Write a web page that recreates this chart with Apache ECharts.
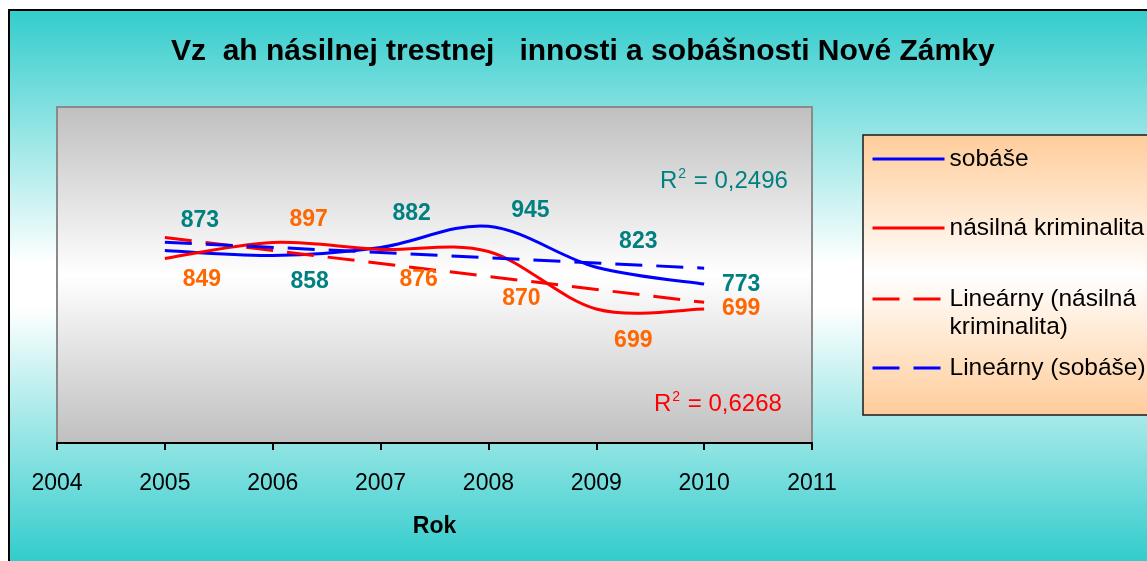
<!DOCTYPE html>
<html>
<head>
<meta charset="utf-8">
<script src="https://cdn.jsdelivr.net/npm/echarts@6/dist/echarts.min.js"></script>
<style>
html, body { margin: 0; padding: 0; background: #ffffff; }
#chart { width: 1147px; height: 561px; }
</style>
</head>
<body>
<div id="chart"></div>
<script>
// ---- data ----
const years = [2005, 2006, 2007, 2008, 2009, 2010];
const sobase = [873, 858, 882, 945, 823, 773];
const kriminalita = [849, 897, 876, 870, 699, 699];
const seriesNames = ['sobáše', 'násilná kriminalita', 'Lineárny (násilná kriminalita)', 'Lineárny (sobáše)'];
const r2Sobase = '0,2496';
const r2Kriminalita = '0,6268';
const titleText = 'Vz  ah násilnej trestnej   innosti a sobášnosti Nové Zámky';
const axisName = 'Rok';
const xMin = 2004, xMax = 2011, xStep = 1;
const yMin = 300, yMax = 1300;

// ---- layout (label offsets relative to each point) ----
const sobaseLabelOffsets = [[35, -30], [37, 26], [31, -34], [42, -16], [42, -26], [37, 1]];
const krimLabelOffsets = [[37, 21], [36, -23], [38, 30], [33, 47], [37, 32], [37, 0]];

const FONT = '"Liberation Sans", Arial, sans-serif';
const BLUE = '#0000ff', RED = '#ff0000', TEAL = '#008080', ORANGE = '#ff6600';
const dash = [27, 14];

// linear trendline (least squares), as the spreadsheet trendline does
function linearTrend(xs, ys) {
  const n = xs.length;
  const mx = xs.reduce((a, b) => a + b, 0) / n;
  const my = ys.reduce((a, b) => a + b, 0) / n;
  let sxy = 0, sxx = 0;
  for (let i = 0; i < n; i++) { sxy += (xs[i] - mx) * (ys[i] - my); sxx += (xs[i] - mx) * (xs[i] - mx); }
  const b = sxy / sxx, a = my - b * mx;
  return [[xs[0], a + b * xs[0]], [xs[n - 1], a + b * xs[n - 1]]];
}

function pointsWithLabels(ys, offsets) {
  return years.map((y, i) => ({ value: [y, ys[i]], label: { offset: offsets[i] } }));
}

const labelBase = (color) => ({
  show: true,
  position: 'inside',
  formatter: (p) => String(p.value[1]),
  color: color,
  fontFamily: FONT,
  fontWeight: 'bold',
  fontSize: 23
});

// spreadsheet-style smoothed line (Catmull-Rom bezier) through the points, mapped by the axes
function smoothRenderer(values, color) {
  return function (params, api) {
    if (params.dataIndex !== 0) return null;
    const pts = years.map((yr, i) => api.coord([yr, values[i]]));
    const n = pts.length;
    let d = 'M' + pts[0][0] + ' ' + pts[0][1];
    for (let i = 0; i < n - 1; i++) {
      const p0 = pts[Math.max(i - 1, 0)], p1 = pts[i], p2 = pts[i + 1], p3 = pts[Math.min(i + 2, n - 1)];
      const c1x = p1[0] + (p2[0] - p0[0]) / 6, c1y = p1[1] + (p2[1] - p0[1]) / 6;
      const c2x = p2[0] - (p3[0] - p1[0]) / 6, c2y = p2[1] - (p3[1] - p1[1]) / 6;
      d += ' C' + c1x + ' ' + c1y + ' ' + c2x + ' ' + c2y + ' ' + p2[0] + ' ' + p2[1];
    }
    return {
      type: 'path',
      shape: { pathData: d },
      style: { stroke: color, lineWidth: 3, fill: 'none', lineJoin: 'round', lineCap: 'butt' },
      silent: true
    };
  };
}

const chart = echarts.init(document.getElementById('chart'), null, { renderer: 'canvas' });

const legendCommon = {
  orient: 'vertical',
  left: 871,
  padding: 0,
  itemWidth: 72,
  itemHeight: 14,
  selectedMode: false,
  lineStyle: { width: 3, opacity: 1 },
  itemStyle: { color: 'rgba(0,0,0,0)', borderWidth: 0, opacity: 0 },
  textStyle: { fontFamily: FONT, fontSize: 24.5, color: '#000', lineHeight: 28 }
};

const invisibleSymbol = {
  symbol: 'circle', symbolSize: 1, showSymbol: true,
  itemStyle: { color: 'rgba(0,0,0,0)', borderWidth: 0 }
};

chart.setOption({
  animation: false,
  title: {
    text: titleText,
    left: 171,
    top: 34,
    padding: 0,
    textStyle: { fontFamily: FONT, fontSize: 30, fontWeight: 'bold', color: '#000', lineHeight: 36 }
  },
  graphic: {
    elements: [
      {
        type: 'rect', z: -100, silent: true,
        shape: { x: 9, y: 10, width: 1300, height: 800 },
        style: {
          fill: new echarts.graphic.LinearGradient(0, 10, 0, 561, [
            { offset: 0, color: '#33cccc' },
            { offset: 0.46, color: '#ffffff' },
            { offset: 0.54, color: '#ffffff' },
            { offset: 1, color: '#33cccc' }
          ], true),
          stroke: '#000', lineWidth: 2
        }
      },
      {
        type: 'rect', z: -50, silent: true,
        shape: { x: 863, y: 135, width: 400, height: 280 },
        style: {
          fill: new echarts.graphic.LinearGradient(0, 0, 0, 1, [
            { offset: 0, color: '#ffcc99' },
            { offset: 0.5, color: '#ffffff' },
            { offset: 1, color: '#ffcc99' }
          ]),
          stroke: '#1a1a1a', lineWidth: 1.5
        }
      },
      {
        type: 'text', z: 10, silent: true,
        x: 660, y: 181,
        style: {
          text: '{r|R}{s|2}{r| = ' + r2Sobase + '}',
          verticalAlign: 'middle',
          rich: {
            r: { fontFamily: FONT, fontSize: 24, fill: TEAL },
            s: { fontFamily: FONT, fontSize: 14, fill: TEAL, verticalAlign: 'bottom', padding: [0, 1, 14, 1] }
          }
        }
      },
      {
        type: 'text', z: 10, silent: true,
        x: 654, y: 404,
        style: {
          text: '{r|R}{s|2}{r| = ' + r2Kriminalita + '}',
          verticalAlign: 'middle',
          rich: {
            r: { fontFamily: FONT, fontSize: 24, fill: RED },
            s: { fontFamily: FONT, fontSize: 14, fill: RED, verticalAlign: 'bottom', padding: [0, 1, 14, 1] }
          }
        }
      }
    ]
  },
  legend: [
    Object.assign({}, legendCommon, { data: [seriesNames[0]], top: 159 - 14 }),
    Object.assign({}, legendCommon, { data: [seriesNames[1]], top: 228 - 14 }),
    Object.assign({}, legendCommon, {
      data: [seriesNames[2]], top: 299 - 42,
      formatter: (n) => ' \n' + n.replace('násilná ', 'násilná\n')
    }),
    Object.assign({}, legendCommon, { data: [seriesNames[3]], top: 368 - 14 })
  ],
  grid: {
    show: true,
    left: 57, right: 335, top: 107, bottom: 118,
    borderColor: '#8a8a8a', borderWidth: 2,
    backgroundColor: {
      type: 'linear', x: 0, y: 0, x2: 0, y2: 1,
      colorStops: [
        { offset: 0, color: '#bfbfbf' },
        { offset: 0.5, color: '#ffffff' },
        { offset: 1, color: '#bfbfbf' }
      ]
    }
  },
  xAxis: {
    type: 'value',
    min: xMin, max: xMax, interval: xStep,
    name: axisName,
    nameLocation: 'middle',
    nameGap: 72,
    nameTextStyle: { fontFamily: FONT, fontSize: 23, fontWeight: 'bold', color: '#000' },
    axisLine: { show: true, onZero: false, lineStyle: { color: '#000', width: 2 } },
    axisTick: { show: true, inside: false, length: 7, lineStyle: { color: '#000', width: 2 } },
    axisLabel: { fontFamily: FONT, fontSize: 23, color: '#000', margin: 29, formatter: (v) => String(v) },
    splitLine: { show: false }
  },
  yAxis: {
    type: 'value',
    min: yMin, max: yMax,
    show: false,
    splitLine: { show: false }
  },
  series: [
    {
      name: '', type: 'custom', renderItem: smoothRenderer(sobase, BLUE),
      data: years.map((yr, i) => [yr, sobase[i]]), encode: { x: 0, y: 1 }, z: 3, silent: true
    },
    {
      name: '', type: 'custom', renderItem: smoothRenderer(kriminalita, RED),
      data: years.map((yr, i) => [yr, kriminalita[i]]), encode: { x: 0, y: 1 }, z: 3, silent: true
    },
    Object.assign({
      name: seriesNames[0], type: 'line',
      data: pointsWithLabels(sobase, sobaseLabelOffsets),
      color: BLUE,
      lineStyle: { color: BLUE, width: 3, opacity: 0 },
      label: labelBase(TEAL),
      z: 6
    }, invisibleSymbol),
    Object.assign({
      name: seriesNames[1], type: 'line',
      data: pointsWithLabels(kriminalita, krimLabelOffsets),
      color: RED,
      lineStyle: { color: RED, width: 3, opacity: 0 },
      label: labelBase(ORANGE),
      z: 6
    }, invisibleSymbol),
    Object.assign({
      name: seriesNames[2], type: 'line',
      data: linearTrend(years, kriminalita),
      color: RED,
      lineStyle: { color: RED, width: 3, type: dash },
      z: 4
    }, invisibleSymbol, { showSymbol: false }),
    Object.assign({
      name: seriesNames[3], type: 'line',
      data: linearTrend(years, sobase),
      color: BLUE,
      lineStyle: { color: BLUE, width: 3, type: dash },
      z: 4
    }, invisibleSymbol, { showSymbol: false })
  ]
});
</script>
</body>
</html>
